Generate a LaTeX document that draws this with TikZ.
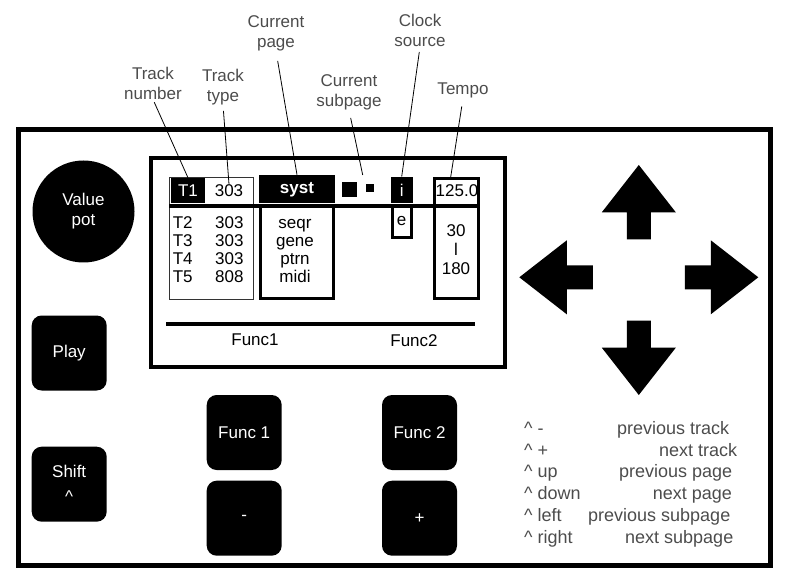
\documentclass[tikz,border=0pt]{standalone}
\usepackage{fontspec}
\setmainfont{Liberation Sans}

\begin{document}
\begin{tikzpicture}[x=1pt, y=-1pt,
    every node/.style={font=\fontsize{17}{20}\selectfont, inner sep=0pt},
    callout/.style={align=center, text=black!70},
    pointer/.style={line width=0.8pt, shorten <=3pt},
    key/.style={fill=black, rounded corners=10pt, minimum width=75pt, minimum height=75pt, text=white, align=center},
    inverse/.style={fill=black, text=white},
    field/.style={draw, line width=3pt},
    hint/.style={anchor=base west, text=black!70, font=\fontsize{18}{20}\selectfont}]

        \useasboundingbox (0,0) rectangle (792,585);

        % housing and display
        \draw[line width=5pt] (18.5,130) rectangle (770,565);
        \draw[line width=3.5pt] (151,158) rectangle (505,367);

        % track column
        \node[draw=black!80, line width=1pt, minimum width=84pt, minimum height=121.7pt] (tracks) at (211.8,238.65) {};
        \node[inverse, minimum width=34pt, minimum height=25pt] (t1) at (188,190.5) {T1};
        \node (type1) at (229,190.5) {303};
        \foreach \trk/\typ [count=\i] in {T2/303, T3/303, T4/303, T5/808} {
            \node[anchor=base] (trk\i) at (182.7,211+18*\i) {\trk};
            \node[anchor=base] (typ\i) at (229.3,211+18*\i) {\typ};
        }

        % page column
        \node[inverse, minimum width=76pt, minimum height=27.7pt, text height=10pt, text depth=0pt,
              font=\fontsize{17}{20}\selectfont\bfseries] (syst) at (297,188.8) {syst};
        \node[field, minimum width=73pt, minimum height=92.5pt] (pages) at (297,252.25) {};
        \foreach \pg [count=\i] in {seqr, gene, ptrn, midi}
            \node[anchor=base] (pg\i) at (295,211+18*\i) {\pg};

        % subpage marks
        \fill (342,182) rectangle (357,197);
        \fill (366,184.5) rectangle (374,192.5);
        \coordinate (subpg) at (362.7,175);

        % clock source
        \node[inverse, minimum width=22pt, minimum height=26.6pt] (clk) at (401.7,190) {i};
        \node[field, minimum width=19pt, minimum height=31.8pt] (ext) at (401.7,221.9) {};
        \node[anchor=base] (e) at (401.5,225.5) {e};

        % tempo
        \node[field, minimum width=43.7pt, minimum height=119.7pt] (tempo) at (456.65,238.65) {};
        \node[anchor=base] (bpm) at (457,196.7) {125.0};
        \node[anchor=base] (lo) at (456,237) {30};
        \node[anchor=base] (dash) at (456,256) {l};
        \node[anchor=base] (hi) at (456,275) {180};

        \draw[line width=4pt] (169,206) -- (478,206);

        % soft key labels
        \draw[line width=4pt] (166,324) -- (475,324);
        \node[anchor=base] (f1lbl) at (255,345) {Func1};
        \node[anchor=base] (f2lbl) at (414,346.7) {Func2};

        % callouts
        \node[callout] (tnum) at (153,83) {Track\\number};
        \node[callout] (ttype) at (223,86.7) {Track\\type};
        \node[callout] (cpage) at (276,33.2) {Current\\page};
        \node[callout] (csub) at (349,92.2) {Current\\subpage};
        \node[callout] (csrc) at (420,30.6) {Clock\\source};
        \node[callout] (ctempo) at (463,90.7) {Tempo};

        \draw[pointer] (tnum.south) -- (t1.north);
        \draw[pointer, shorten <=6pt] (ttype.south) -- (type1.north);
        \draw[pointer, shorten <=10pt] (cpage.south) -- (syst.north);
        \draw[pointer, shorten <=8pt] (csub.south) -- (subpg);
        \draw[pointer, shorten <=5pt] (csrc.south) -- (clk.north);
        \draw[pointer, shorten <=8pt] (ctempo.south) -- ([xshift=-6pt]tempo.north);

        % knob and keys
        \node[circle, fill=black, text=white, align=center, minimum size=102pt] (pot) at (83.5,211.5) {Value\\pot};
        \node[key] (play) at (69.2,353) {Play};
        \node[key] (shift) at (69.2,484.2) {Shift\\[5pt]\textasciicircum};
        \node[key] (func1) at (244.2,432.5) {Func 1};
        \node[key] (func2) at (419.5,432.5) {Func 2};
        \node[key] (minus) at (244.2,518.2) {-};
        \node[key] (plus) at (419.5,518.2) {+};

        % direction pad
        \foreach \ang/\cy/\st/\hd/\tip in {0/277.3/46/72/119.5, 180/277.3/46/72/119.5, 90/280/40.7/67.7/115, 270/280/40.7/67.7/115}
            \fill[shift={(638.8,\cy)}, rotate=\ang] (\st,-12) -- (\hd,-12) -- (\hd,-37) -- (\tip,0) -- (\hd,37) -- (\hd,12) -- (\st,12) -- cycle;

        % shift combinations
        \foreach \combo/\act/\ax [count=\i] in {-/previous track/617, +/next track/659, up/previous page/619,
                down/next page/652.7, left/previous subpage/588, right/next subpage/625} {
            \node[hint] (combo\i) at (524,412.8+21.7*\i) {\textasciicircum\ \combo};
            \node[hint] (act\i) at (\ax,412.8+21.7*\i) {\act};
        }

\end{tikzpicture}
\end{document}
